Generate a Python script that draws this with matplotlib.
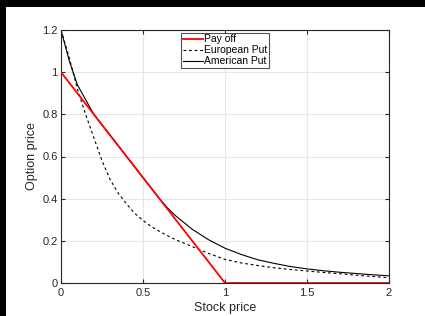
import matplotlib.pyplot as plt
from matplotlib.patches import Rectangle

# Stock price grid and option values
stock = [0.0, 0.05, 0.1, 0.15, 0.2, 0.25, 0.3, 0.35, 0.4, 0.45, 0.5, 0.55,
         0.6, 0.65, 0.7, 0.8, 0.9, 1.0, 1.1, 1.2, 1.3, 1.4, 1.5, 1.6, 1.7,
         1.8, 1.9, 2.0]
european = [1.2, 1.07, 0.92, 0.80, 0.69, 0.58, 0.49, 0.425, 0.375, 0.33,
            0.297, 0.268, 0.245, 0.224, 0.205, 0.173, 0.14, 0.112, 0.095,
            0.083, 0.072, 0.064, 0.057, 0.050, 0.044, 0.037, 0.031, 0.025]
american = [1.2, 1.055, 0.94, 0.87, 0.8, 0.75, 0.7, 0.65, 0.6, 0.55, 0.5,
            0.45, 0.4, 0.356, 0.318, 0.255, 0.205, 0.165, 0.135, 0.11, 0.093,
            0.078, 0.067, 0.058, 0.051, 0.045, 0.039, 0.034]
payoff_s = [0.0, 1.0, 2.0]
payoff_v = [1.0, 0.0, 0.0]

plt.rcParams["font.family"] = ["Liberation Sans", "DejaVu Sans"]

fig = plt.figure(figsize=(4.25, 3.16), dpi=100, facecolor="black")
fig.patches.append(Rectangle((6 / 425, 0), 1, 1 - 7 / 316, transform=fig.transFigure,
                             facecolor="white", edgecolor="none", zorder=-1))
ax = fig.add_axes([61 / 425, 33 / 316, 328 / 425, 253 / 316])

ax.plot(payoff_s, payoff_v, color="red", lw=1.3, label="Pay off", zorder=3)
ax.plot(stock, european, color="black", lw=0.8, ls=(0, (2.5, 2.5)), label="European Put")
ax.plot(stock, american, color="black", lw=0.8, label="American Put")

ax.set_xlim(0, 2)
ax.set_ylim(0, 1.2)
ax.set_xticks([0, 0.5, 1, 1.5, 2])
ax.set_xticklabels(["0", "0.5", "1", "1.5", "2"])
ax.set_yticks([0, 0.2, 0.4, 0.6, 0.8, 1, 1.2])
ax.set_yticklabels(["0", "0.2", "0.4", "0.6", "0.8", "1", "1.2"])
ax.grid(True, color="#e6e6e6", lw=0.8)
ax.set_axisbelow(True)
ax.tick_params(direction="in", length=3, width=0.8, colors="#262626",
               labelsize=8, top=True, right=True)
ax.tick_params(axis="x", pad=3.5)
ax.tick_params(axis="y", pad=2.5)
for s in ax.spines.values():
    s.set_color("#262626")
    s.set_linewidth(0.8)

ax.set_xlabel("Stock price", fontsize=9, color="#262626", labelpad=3)
ax.set_ylabel("Option price", fontsize=9, color="#262626", labelpad=3)

leg = ax.legend(loc="upper center", fontsize=7.5, frameon=True, fancybox=False,
                handlelength=1.9, handletextpad=0.1, borderpad=0.15,
                labelspacing=0.1, borderaxespad=0.25)
leg.get_frame().set_edgecolor("#262626")
leg.get_frame().set_linewidth(0.8)

fig.savefig("out.png", dpi=100, facecolor=fig.get_facecolor())
